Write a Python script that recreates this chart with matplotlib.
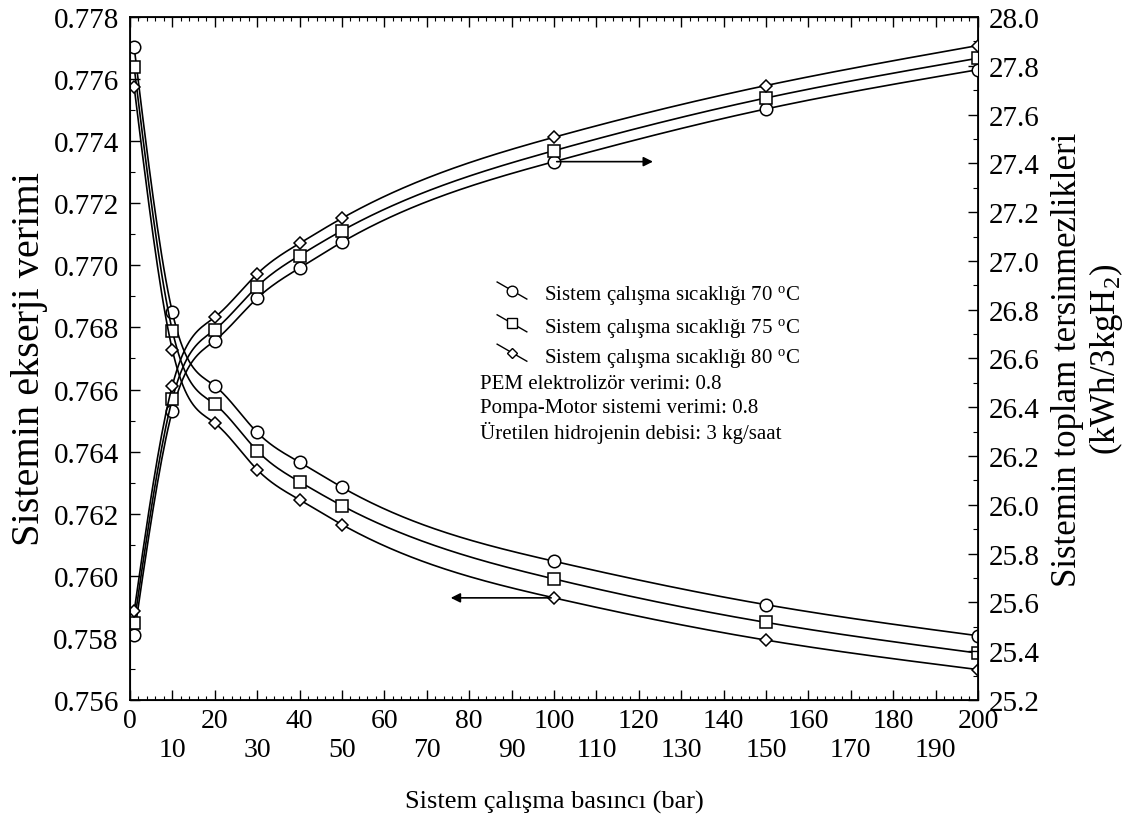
import numpy as np
import matplotlib
matplotlib.use("Agg")
import matplotlib.pyplot as plt
from matplotlib.ticker import MultipleLocator, FixedLocator, FixedFormatter, FormatStrFormatter

plt.rcParams['font.family'] = ['Liberation Serif', 'DejaVu Serif']
plt.rcParams['mathtext.fontset'] = 'custom'
plt.rcParams['mathtext.rm'] = 'Liberation Serif'
plt.rcParams['mathtext.it'] = 'Liberation Serif:italic'

# pressure (bar)
basinc = [1, 10, 20, 30, 40, 50, 100, 150, 200]

# exergy efficiency (left axis)
verim_70 = [0.77702, 0.76849, 0.76612, 0.76462, 0.76366, 0.76285, 0.76047, 0.75907, 0.75807]
verim_75 = [0.77638, 0.76790, 0.76553, 0.76403, 0.76303, 0.76226, 0.75990, 0.75850, 0.75751]
verim_80 = [0.77574, 0.76728, 0.76492, 0.76342, 0.76245, 0.76165, 0.75929, 0.75793, 0.75698]

# total irreversibility (right axis)
tersinmez_70 = [25.467, 26.386, 26.673, 26.847, 26.971, 27.077, 27.407, 27.623, 27.784]
tersinmez_75 = [25.516, 26.434, 26.718, 26.895, 27.022, 27.124, 27.452, 27.668, 27.831]
tersinmez_80 = [25.564, 26.489, 26.769, 26.947, 27.072, 27.175, 27.507, 27.719, 27.883]

etiketler = ['Sistem çalışma sıcaklığı 70 $^{\\mathrm{o}}$C',
             'Sistem çalışma sıcaklığı 75 $^{\\mathrm{o}}$C',
             'Sistem çalışma sıcaklığı 80 $^{\\mathrm{o}}$C']
notlar = ['PEM elektrolizör verimi: 0.8',
          'Pompa-Motor sistemi verimi: 0.8',
          'Üretilen hidrojenin debisi: 3 kg/saat']
isaretler = ['o', 's', 'D']
boyutlar = [9, 9, 6]


def dogal_spline(x, y, n=400):
    # natural cubic spline, only used to draw a smooth line through the points
    x = np.asarray(x, float)
    y = np.asarray(y, float)
    k = len(x)
    h = np.diff(x)
    A = np.zeros((k, k))
    b = np.zeros(k)
    A[0, 0] = A[-1, -1] = 1
    for i in range(1, k - 1):
        A[i, i - 1] = h[i - 1]
        A[i, i] = 2 * (h[i - 1] + h[i])
        A[i, i + 1] = h[i]
        b[i] = 6 * ((y[i + 1] - y[i]) / h[i] - (y[i] - y[i - 1]) / h[i - 1])
    M = np.linalg.solve(A, b)
    xs = np.linspace(x[0], x[-1], n)
    j = np.clip(np.searchsorted(x, xs) - 1, 0, k - 2)
    t0 = xs - x[j]
    t1 = x[j + 1] - xs
    hj = h[j]
    ys = (M[j] * t1 ** 3 + M[j + 1] * t0 ** 3) / (6 * hj) \
        + (y[j] / hj - M[j] * hj / 6) * t1 + (y[j + 1] / hj - M[j + 1] * hj / 6) * t0
    return xs, ys


fig = plt.figure(figsize=(11.28, 8.29), dpi=100)
ax = fig.add_axes([0.1152, 0.1544, 0.7518, 0.8239])
ax2 = ax.twinx()

for seri, m, ms in zip([verim_70, verim_75, verim_80], isaretler, boyutlar):
    xs, ys = dogal_spline(basinc, seri)
    ax.plot(xs, ys, color='black', lw=1.2)
    ax.plot(basinc, seri, ls='none', marker=m, ms=ms, mfc='white', mec='black', mew=1.1)

for seri, m, ms in zip([tersinmez_70, tersinmez_75, tersinmez_80], isaretler, boyutlar):
    xs, ys = dogal_spline(basinc, seri)
    ax2.plot(xs, ys, color='black', lw=1.2)
    ax2.plot(basinc, seri, ls='none', marker=m, ms=ms, mfc='white', mec='black', mew=1.1)

ax.set_xlim(0, 200)
ax.set_ylim(0.756, 0.778)
ax2.set_ylim(25.2, 28.0)

# x ticks: labels alternate between two rows
xt = list(range(0, 201, 10))
ax.xaxis.set_major_locator(FixedLocator(xt))
ax.xaxis.set_major_formatter(FixedFormatter([str(v) if v % 20 == 0 else '\n' + str(v) for v in xt]))
ax.xaxis.set_minor_locator(MultipleLocator(2))
ax.yaxis.set_major_locator(MultipleLocator(0.002))
ax.yaxis.set_minor_locator(MultipleLocator(0.001))
ax.yaxis.set_major_formatter(FormatStrFormatter('%.3f'))
ax2.yaxis.set_major_locator(MultipleLocator(0.2))
ax2.yaxis.set_minor_locator(MultipleLocator(0.1))
ax2.yaxis.set_major_formatter(FormatStrFormatter('%.1f'))

ax.tick_params(axis='x', which='both', direction='in', top=True, labelsize=20, pad=6)
ax.tick_params(axis='x', which='major', length=7, width=1)
ax.tick_params(axis='x', which='minor', length=3, width=0.8)
ax.tick_params(axis='y', which='both', direction='in', right=False, labelsize=21, pad=8)
ax.tick_params(axis='y', which='major', length=7, width=1)
ax.tick_params(axis='y', which='minor', length=3.5, width=0.8)
ax2.tick_params(axis='y', which='both', direction='in', labelsize=21, pad=8)
ax2.tick_params(axis='y', which='major', length=7, width=1)
ax2.tick_params(axis='y', which='minor', length=3.5, width=0.8)
for s in ax.spines.values():
    s.set_linewidth(1.3)

ax.set_xlabel('Sistem çalışma basıncı (bar)', fontsize=19, labelpad=20)
ax.set_ylabel('Sistemin ekserji verimi', fontsize=29, labelpad=4)
ax2.set_ylabel('Sistemin toplam tersinmezlikleri\n(kWh/3kgH$_2$)', fontsize=25,
               labelpad=8, ha='center', multialignment='center', linespacing=1.1)

# arrows pointing to the matching axis
ax.annotate('', xy=(75, verim_80[6]), xytext=(100, verim_80[6]),
            arrowprops=dict(arrowstyle='-|>', color='black', lw=1.2, mutation_scale=14))
ax2.annotate('', xy=(124, tersinmez_70[6]), xytext=(100, tersinmez_70[6]),
             arrowprops=dict(arrowstyle='-|>', color='black', lw=1.2, mutation_scale=14))

# legend with slanted handles
satir_y = [0.593, 0.545, 0.502]
for yy, m, ms, et in zip(satir_y, isaretler, boyutlar, etiketler):
    ax.plot([0.433, 0.468], [yy + 0.019, yy - 0.006], color='black', lw=1.0,
            transform=ax.transAxes, clip_on=False)
    ax.plot([0.4505], [yy + 0.0065], marker=m, ms=ms * 0.85, mfc='white', mec='black',
            mew=1.0, transform=ax.transAxes)
    ax.text(0.488, yy, et, transform=ax.transAxes, fontsize=15, va='center', ha='left')
for yy, nt in zip([0.463, 0.428, 0.392], notlar):
    ax.text(0.413, yy, nt, transform=ax.transAxes, fontsize=15, va='center', ha='left')

fig.savefig('out.png', dpi=100)
